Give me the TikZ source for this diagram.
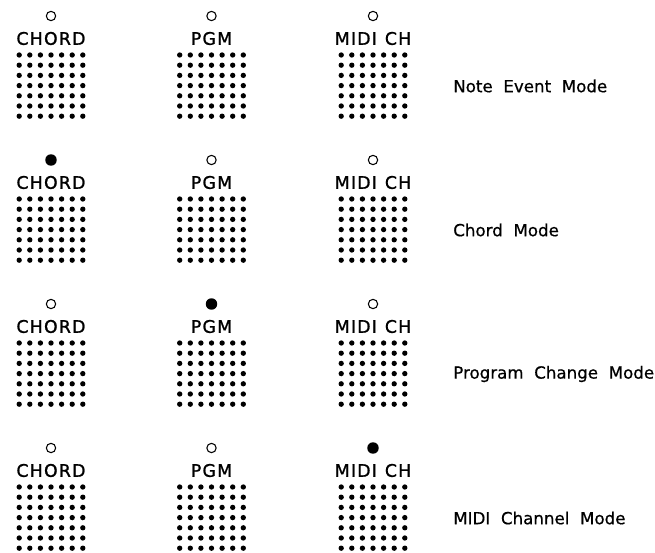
\documentclass[tikz,border=0pt]{standalone}
\usepackage{fontspec}
\newfontfamily\labfont[LetterSpace=7,FakeBold=1.2]{DejaVu Sans}
\newfontfamily\modefont[FakeBold=0.6]{DejaVu Sans}
\newcommand\modesetup{\modefont\fontsize{12.5}{14}\selectfont\spaceskip=8pt plus 1pt\relax}
\newcommand\labsetup{\labfont\fontsize{13}{15}\selectfont\spaceskip=6pt plus 1pt\relax}
\begin{document}
\begin{tikzpicture}[x=0.75pt,y=-0.75pt,
  keydot/.style={circle,fill=black,inner sep=0pt,minimum size=4pt},
  ledoff/.style={circle,draw=black,line width=0.8pt,inner sep=0pt,minimum size=7pt},
  ledon/.style={circle,fill=black,inner sep=0pt,minimum size=8.6pt},
  toplabel/.style={font=\labsetup,inner sep=0pt},
  modelabel/.style={font=\modesetup,inner sep=0pt,anchor=west}]
\useasboundingbox (0,0) rectangle (655,552);
\def\P{144}
\foreach \k/\mode/\on in {0/Note Event Mode/9,1/Chord Mode/0,2/Program Change Mode/1,3/MIDI Channel Mode/2}{
  \foreach \c/\X/\name in {0/51/CHORD,1/211.5/PGM,2/373/MIDI CH}{
    \ifnum\c=\on
      \node[ledon] (led-\k-\c) at (\X,16+\P*\k) {};
    \else
      \node[ledoff] (led-\k-\c) at (\X,16+\P*\k) {};
    \fi
    \node[toplabel] (lab-\k-\c) at (\X,38.5+\P*\k) {\name};
    \foreach \i in {0,...,6}{
      \foreach \j in {0,...,6}{
        \node[keydot] (dot-\k-\c-\i-\j) at (\X+10.6*\j-31.8,55+10.2*\i+\P*\k) {};
      }
    }
  }
  \node[modelabel] (mode-\k) at (453,86+\P*\k) {\mode};
}
\end{tikzpicture}
\end{document}
